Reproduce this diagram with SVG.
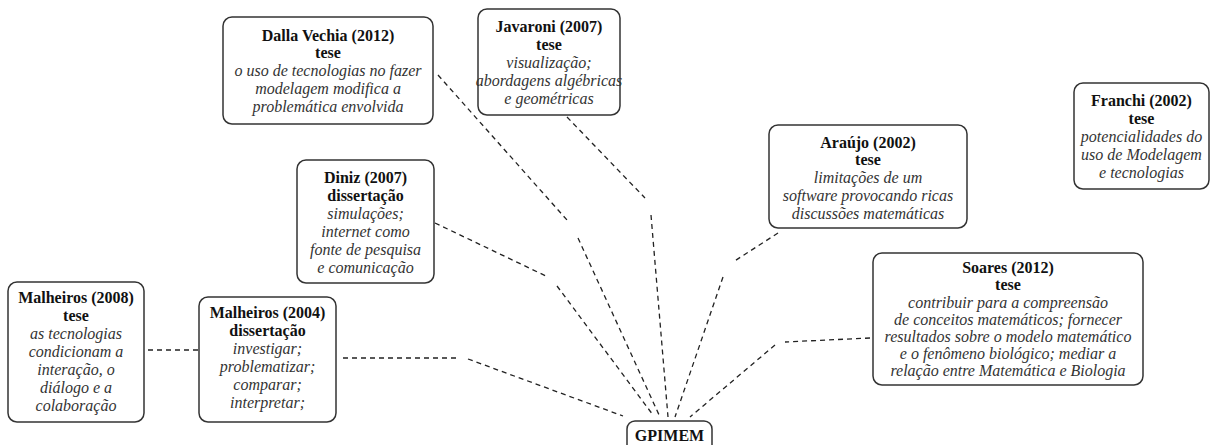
<svg xmlns="http://www.w3.org/2000/svg" width="1212" height="445" viewBox="0 0 1212 445">
<style>
.box{fill:#fff;stroke:#333;stroke-width:1.5}
.lbl{font-size:16px;text-anchor:middle}
.t{font-weight:bold;fill:#111}
.d{font-style:italic;fill:#333}
.c{fill:none;stroke:#222;stroke-width:1.3;stroke-dasharray:5 4}
</style>
<rect width="1212" height="445" fill="#fff"/>
<g id="connectors">
<path class="c" d="M148 350 L198 350"/>
<path class="c" d="M343 358 L460 358 M468 359 L623 416"/>
<path class="c" d="M435 223 L548 277 M557 286 L653 415"/>
<path class="c" d="M438 75 L567 220 M578 238 L660 417"/>
<path class="c" d="M567 117 L645 198 M651 215 L668 417"/>
<path class="c" d="M778 233 L733 262 M723 277 L675 417"/>
<path class="c" d="M870 338 L785 342 M775 345 L690 417"/>
</g>
<g class="lbl">
<g id="dallavechia">
<rect class="box" x="223" y="17" width="210" height="107" rx="9"/>
<text class="t" style="font-family:'Liberation Serif'" x="328" y="41">Dalla Vechia (2012)</text>
<text class="t" style="font-family:'Liberation Serif'" x="328" y="58">tese</text>
<text class="d" style="font-family:'Liberation Serif'" x="328" y="76">o uso de tecnologias no fazer</text>
<text class="d" style="font-family:'Liberation Serif'" x="328" y="94">modelagem modifica a</text>
<text class="d" style="font-family:'Liberation Serif'" x="328" y="112">problemática envolvida</text>
</g>
<g id="javaroni">
<rect class="box" x="478" y="9" width="142" height="106" rx="9"/>
<text class="t" style="font-family:'Liberation Serif'" x="549" y="32">Javaroni (2007)</text>
<text class="t" style="font-family:'Liberation Serif'" x="549" y="50">tese</text>
<text class="d" style="font-family:'Liberation Serif'" x="549" y="68">visualização;</text>
<text class="d" style="font-family:'Liberation Serif'" x="549" y="86">abordagens algébricas</text>
<text class="d" style="font-family:'Liberation Serif'" x="549" y="104">e geométricas</text>
</g>
<g id="diniz">
<rect class="box" x="297" y="160" width="137" height="123" rx="9"/>
<text class="t" style="font-family:'Liberation Serif'" x="365.5" y="183">Diniz (2007)</text>
<text class="t" style="font-family:'Liberation Serif'" x="365.5" y="201">dissertação</text>
<text class="d" style="font-family:'Liberation Serif'" x="365.5" y="219">simulações;</text>
<text class="d" style="font-family:'Liberation Serif'" x="365.5" y="237">internet como</text>
<text class="d" style="font-family:'Liberation Serif'" x="365.5" y="255">fonte de pesquisa</text>
<text class="d" style="font-family:'Liberation Serif'" x="365.5" y="273">e comunicação</text>
</g>
<g id="araujo">
<rect class="box" x="769" y="125" width="198" height="103" rx="9"/>
<text class="t" style="font-family:'Liberation Serif'" x="868" y="148">Araújo (2002)</text>
<text class="t" style="font-family:'Liberation Serif'" x="868" y="165">tese</text>
<text class="d" style="font-family:'Liberation Serif'" x="868" y="183">limitações de um</text>
<text class="d" style="font-family:'Liberation Serif'" x="868" y="201">software provocando ricas</text>
<text class="d" style="font-family:'Liberation Serif'" x="868" y="219">discussões matemáticas</text>
</g>
<g id="franchi">
<rect class="box" x="1074" y="83" width="135" height="106" rx="9"/>
<text class="t" style="font-family:'Liberation Serif'" x="1141.5" y="106">Franchi (2002)</text>
<text class="t" style="font-family:'Liberation Serif'" x="1141.5" y="124">tese</text>
<text class="d" style="font-family:'Liberation Serif'" x="1141.5" y="142">potencialidades do</text>
<text class="d" style="font-family:'Liberation Serif'" x="1141.5" y="160">uso de Modelagem</text>
<text class="d" style="font-family:'Liberation Serif'" x="1141.5" y="178">e tecnologias</text>
</g>
<g id="soares">
<rect class="box" x="873" y="253" width="270" height="132" rx="9"/>
<text class="t" style="font-family:'Liberation Serif'" x="1008" y="273">Soares (2012)</text>
<text class="t" style="font-family:'Liberation Serif'" x="1008" y="290">tese</text>
<text class="d" style="font-family:'Liberation Serif'" x="1008" y="308">contribuir para a compreensão</text>
<text class="d" style="font-family:'Liberation Serif'" x="1008" y="325">de conceitos matemáticos; fornecer</text>
<text class="d" style="font-family:'Liberation Serif'" x="1008" y="342">resultados sobre o modelo matemático</text>
<text class="d" style="font-family:'Liberation Serif'" x="1008" y="359">e o fenômeno biológico; mediar a</text>
<text class="d" style="font-family:'Liberation Serif'" x="1008" y="376">relação entre Matemática e Biologia</text>
</g>
<g id="malheiros2008">
<rect class="box" x="8" y="282" width="136" height="140" rx="9"/>
<text class="t" style="font-family:'Liberation Serif'" x="76" y="303">Malheiros (2008)</text>
<text class="t" style="font-family:'Liberation Serif'" x="76" y="321">tese</text>
<text class="d" style="font-family:'Liberation Serif'" x="76" y="339">as tecnologias</text>
<text class="d" style="font-family:'Liberation Serif'" x="76" y="357">condicionam a</text>
<text class="d" style="font-family:'Liberation Serif'" x="76" y="375">interação, o</text>
<text class="d" style="font-family:'Liberation Serif'" x="76" y="393">diálogo e a</text>
<text class="d" style="font-family:'Liberation Serif'" x="76" y="411">colaboração</text>
</g>
<g id="malheiros2004">
<rect class="box" x="199" y="297" width="137" height="125" rx="9"/>
<text class="t" style="font-family:'Liberation Serif'" x="267.5" y="318">Malheiros (2004)</text>
<text class="t" style="font-family:'Liberation Serif'" x="267.5" y="336">dissertação</text>
<text class="d" style="font-family:'Liberation Serif'" x="267.5" y="354">investigar;</text>
<text class="d" style="font-family:'Liberation Serif'" x="267.5" y="372">problematizar;</text>
<text class="d" style="font-family:'Liberation Serif'" x="267.5" y="390">comparar;</text>
<text class="d" style="font-family:'Liberation Serif'" x="267.5" y="408">interpretar;</text>
</g>
<g id="gpimem">
<rect class="box" x="627" y="421" width="85" height="32" rx="8"/>
<text class="t" style="font-family:'Liberation Serif'" x="669.5" y="441">GPIMEM</text>
</g>
</g>
</svg>
